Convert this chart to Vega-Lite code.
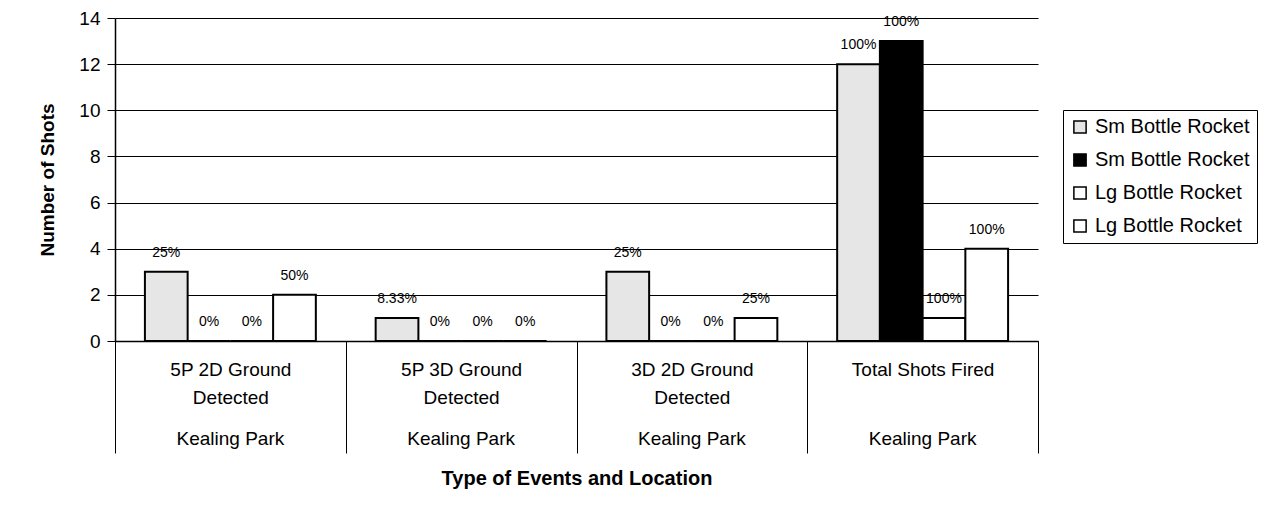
{
  "$schema": "https://vega.github.io/schema/vega-lite/v6.json",
  "width": 923,
  "height": 323,
  "autosize": {"type": "none"},
  "padding": {"left": 115, "top": 18, "right": 238, "bottom": 179},
  "background": "white",
  "config": {
    "font": "Liberation Sans",
    "view": {"stroke": null},
    "axis": {"domainColor": "black", "tickColor": "black", "gridColor": "black", "labelColor": "black", "titleColor": "black"}
  },
  "data": {
    "values": [
      {"event": "5P 2D Ground Detected", "location": "Kealing Park", "series": "Sm Bottle Rocket A", "shots": 3, "pct": "25%"},
      {"event": "5P 2D Ground Detected", "location": "Kealing Park", "series": "Sm Bottle Rocket B", "shots": 0, "pct": "0%"},
      {"event": "5P 2D Ground Detected", "location": "Kealing Park", "series": "Lg Bottle Rocket A", "shots": 0, "pct": "0%"},
      {"event": "5P 2D Ground Detected", "location": "Kealing Park", "series": "Lg Bottle Rocket B", "shots": 2, "pct": "50%"},
      {"event": "5P 3D Ground Detected", "location": "Kealing Park", "series": "Sm Bottle Rocket A", "shots": 1, "pct": "8.33%"},
      {"event": "5P 3D Ground Detected", "location": "Kealing Park", "series": "Sm Bottle Rocket B", "shots": 0, "pct": "0%"},
      {"event": "5P 3D Ground Detected", "location": "Kealing Park", "series": "Lg Bottle Rocket A", "shots": 0, "pct": "0%"},
      {"event": "5P 3D Ground Detected", "location": "Kealing Park", "series": "Lg Bottle Rocket B", "shots": 0, "pct": "0%"},
      {"event": "3D 2D Ground Detected", "location": "Kealing Park", "series": "Sm Bottle Rocket A", "shots": 3, "pct": "25%"},
      {"event": "3D 2D Ground Detected", "location": "Kealing Park", "series": "Sm Bottle Rocket B", "shots": 0, "pct": "0%"},
      {"event": "3D 2D Ground Detected", "location": "Kealing Park", "series": "Lg Bottle Rocket A", "shots": 0, "pct": "0%"},
      {"event": "3D 2D Ground Detected", "location": "Kealing Park", "series": "Lg Bottle Rocket B", "shots": 1, "pct": "25%"},
      {"event": "Total Shots Fired", "location": "Kealing Park", "series": "Sm Bottle Rocket A", "shots": 12, "pct": "100%"},
      {"event": "Total Shots Fired", "location": "Kealing Park", "series": "Sm Bottle Rocket B", "shots": 13, "pct": "100%"},
      {"event": "Total Shots Fired", "location": "Kealing Park", "series": "Lg Bottle Rocket A", "shots": 1, "pct": "100%"},
      {"event": "Total Shots Fired", "location": "Kealing Park", "series": "Lg Bottle Rocket B", "shots": 4, "pct": "100%"}
    ]
  },
  "encoding": {
    "xOffset": {
      "field": "series",
      "type": "nominal",
      "sort": null,
      "scale": {"paddingInner": 0, "paddingOuter": 0.7}
    },
    "y": {
      "field": "shots",
      "type": "quantitative",
      "scale": {"domain": [0, 14], "nice": false},
      "axis": {
        "title": "Number of Shots",
        "titleFontSize": 19,
        "titleFontWeight": "bold",
        "titleX": -68,
        "titleBaseline": "middle",
        "values": [0, 2, 4, 6, 8, 10, 12, 14],
        "labelFontSize": 19,
        "labelPadding": 7,
        "tickSize": 8,
        "domainWidth": 1.5,
        "gridWidth": 1
      }
    }
  },
  "resolve": {"axis": {"x": "independent"}},
  "layer": [
    {
      "mark": {"type": "bar", "stroke": "black", "strokeWidth": 2},
      "encoding": {
        "x": {
          "field": "event",
          "type": "nominal",
          "sort": null,
          "scale": {"paddingInner": 0, "paddingOuter": 0},
          "axis": {
            "orient": "bottom",
            "title": "Type of Events and Location",
            "titleFontSize": 20,
            "titleFontWeight": "bold",
            "titleY": 137,
            "titleBaseline": "middle",
            "labelAngle": 0,
            "labelFontSize": 19,
            "labelLineHeight": 28,
            "labelPadding": -93,
            "labelOverlap": false,
            "labelLimit": 300,
            "labelExpr": "!isValid(datum.value) ? '' : indexof(datum.value, ' Detected') > 0 ? [replace(datum.value, ' Detected', ''), 'Detected'] : datum.value",
            "tickBand": "extent",
            "tickSize": 112,
            "tickWidth": 1,
            "domainWidth": 1.5
          }
        },
        "fill": {
          "field": "series",
          "type": "nominal",
          "sort": null,
          "scale": {
            "domain": ["Sm Bottle Rocket A", "Sm Bottle Rocket B", "Lg Bottle Rocket A", "Lg Bottle Rocket B"],
            "range": ["#e6e6e6", "#000000", "#ffffff", "#ffffff"]
          },
          "legend": {
            "title": null,
            "orient": "none",
            "legendX": 948,
            "legendY": 92,
            "direction": "vertical",
            "strokeColor": "black",
            "fillColor": "white",
            "padding": 7,
            "labelFontSize": 20,
            "labelColor": "black",
            "labelOffset": 5,
            "rowPadding": 13,
            "symbolType": "square",
            "symbolSize": 150,
            "symbolStrokeColor": "black",
            "symbolStrokeWidth": 1.5,
            "labelExpr": "slice(datum.label, 0, -2)"
          }
        }
      }
    },
    {
      "mark": {"type": "text", "dy": -19, "baseline": "middle", "fontSize": 14, "color": "black"},
      "encoding": {
        "x": {
          "field": "event",
          "type": "nominal",
          "sort": null,
          "axis": {
            "orient": "bottom",
            "title": null,
            "domain": false,
            "ticks": false,
            "labelAngle": 0,
            "labelFontSize": 19,
            "labelPadding": 88,
            "labelOverlap": false,
            "labelLimit": 300,
            "labelExpr": "'Kealing Park'"
          }
        },
        "text": {"field": "pct", "type": "nominal"}
      }
    }
  ]
}
